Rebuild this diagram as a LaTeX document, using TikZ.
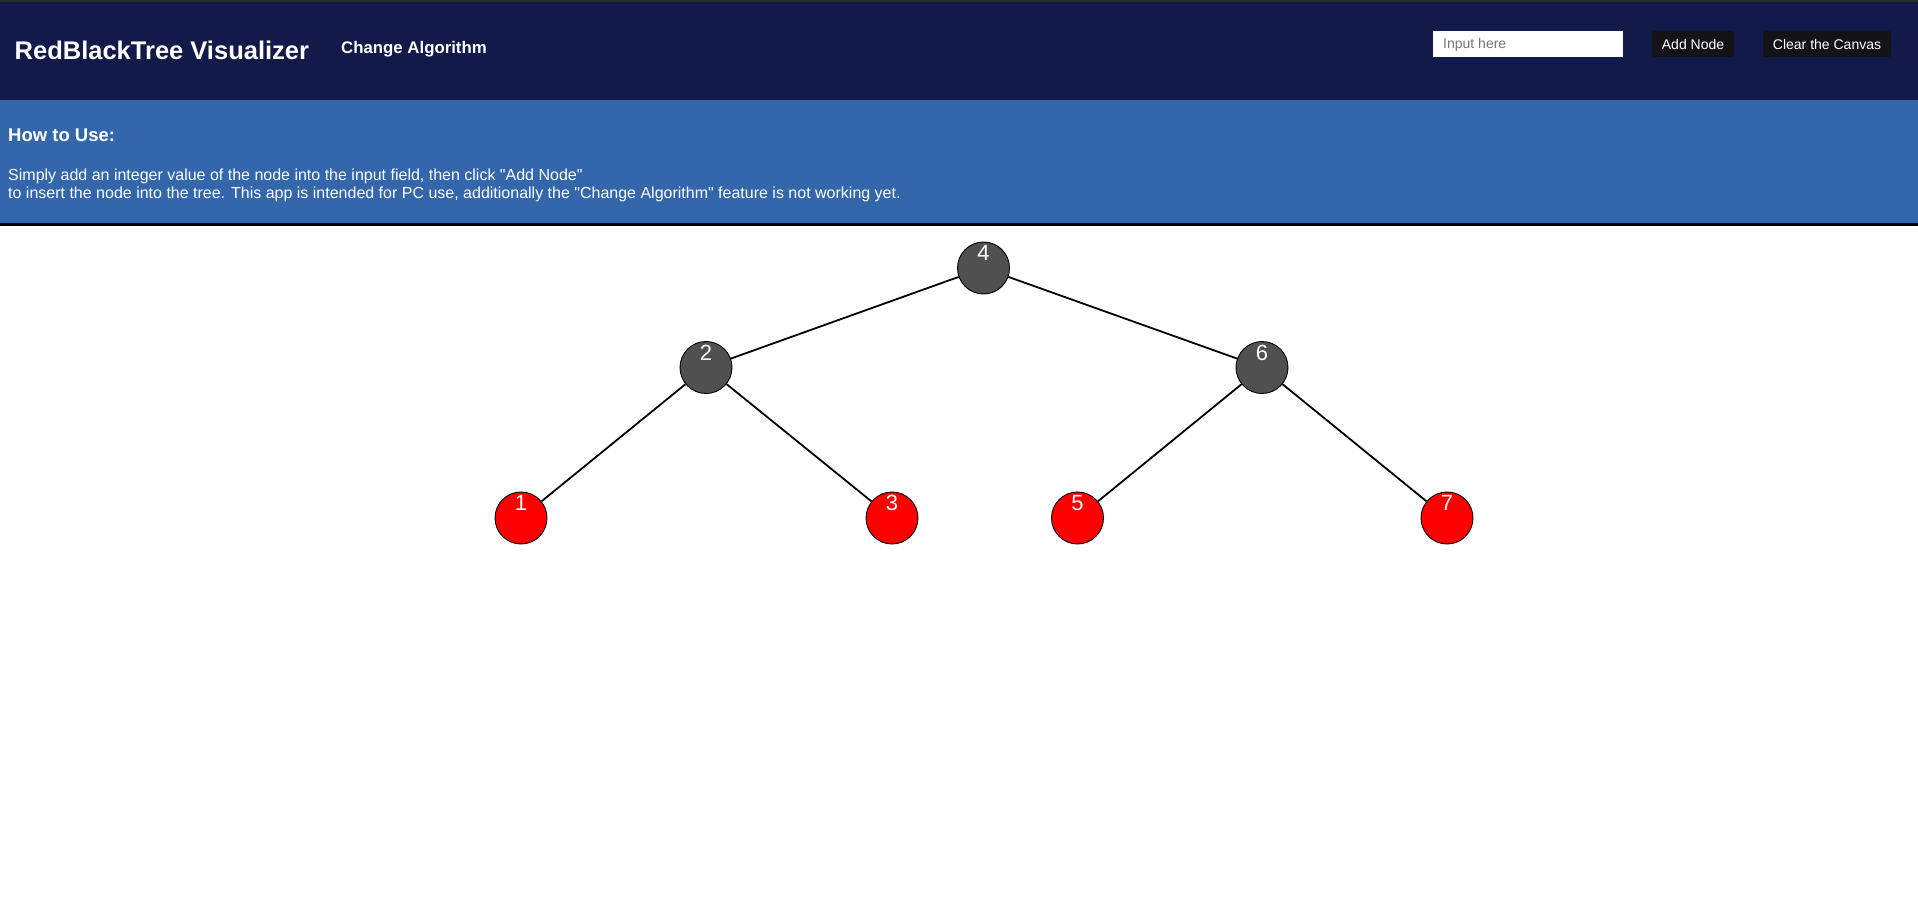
\documentclass[tikz,border=0pt]{standalone}
\usepackage{fontspec}
\setmainfont{Liberation Sans}[Ligatures=TeXOff]
\definecolor{RBnavy}{HTML}{121A4A}
\definecolor{RBblue}{HTML}{3366AA}
\definecolor{RBgray}{HTML}{505050}
\definecolor{RBred}{HTML}{FF0000}
\definecolor{RBbutton}{HTML}{141418}
\definecolor{RBhint}{HTML}{757575}
\definecolor{RBtop}{HTML}{2A2A2A}
\newcommand{\pxfont}[1]{\fontsize{#1}{#1}\selectfont}
\tikzset{
  treenode/.style={circle, draw=black, line width=0.9pt, minimum size=52pt, inner sep=0pt},
  blacknode/.style={treenode, fill=RBgray},
  rednode/.style={treenode, fill=RBred},
  keylabel/.style={text=white, font=\pxfont{22}, inner sep=0pt, yshift=15pt},
  treeedge/.style={line width=1.8pt},
  headtext/.style={anchor=base west, inner sep=0pt, text=white},
  button/.style={fill=RBbutton, rounded corners=2pt, text=white, font=\pxfont{14},
    minimum height=26pt, inner sep=0pt}
}

\begin{document}
\begin{tikzpicture}[x=1pt, y=-1pt]

  \useasboundingbox (0,0) rectangle (1918,915);

  % header bands
  \fill[RBnavy] (0,0) rectangle (1918,100);
  \fill[RBtop] (0,0) rectangle (1918,2);
  \fill[RBblue] (0,100) rectangle (1918,223);
  \fill[black] (0,223) rectangle (1918,225.5);

  \node[headtext, font=\pxfont{25.5}\bfseries] (title) at (14.5,60) {RedBlackTree Visualizer};
  \node[headtext, font=\pxfont{16.8}\bfseries] (change) at (341,54) {Change Algorithm};

  \node[fill=white, minimum width=190pt, minimum height=26pt, inner sep=0pt] (inputbox) at (1528,44) {};
  \node[headtext, text=RBhint, font=\pxfont{14}] (inputhint) at (1443,49) {Input here};
  \node[button, minimum width=82pt] (addnode) at (1693,44) {Add Node};
  \node[button, minimum width=128pt] (clearcanvas) at (1827,44) {Clear the Canvas};

  \node[headtext, font=\pxfont{18.5}\bfseries] (howto) at (8,142) {How to Use:};
  \node[headtext, font=\pxfont{16}] (helpone) at (8,180)
    {Simply add an integer value of the node into the input field, then click "Add Node"};
  \node[headtext, font=\pxfont{16}] (helptwo) at (8,198)
    {to insert the node into the tree. This app is intended for PC use, additionally the "Change Algorithm" feature is not working yet.};

  % the tree
  \node[blacknode, label={[keylabel]center:4}] (n4) at (983.5,268) {};
  \node[blacknode, label={[keylabel]center:2}] (n2) at (706,367.5) {};
  \node[blacknode, label={[keylabel]center:6}] (n6) at (1262,367.5) {};
  \node[rednode, label={[keylabel]center:1}] (n1) at (521,518) {};
  \node[rednode, label={[keylabel]center:3}] (n3) at (892,518) {};
  \node[rednode, label={[keylabel]center:5}] (n5) at (1077.5,518) {};
  \node[rednode, label={[keylabel]center:7}] (n7) at (1447,518) {};

  \foreach \from/\to in {n4/n2, n4/n6, n2/n1, n2/n3, n6/n5, n6/n7}
    \draw[treeedge] (\from) -- (\to);

\end{tikzpicture}
\end{document}
